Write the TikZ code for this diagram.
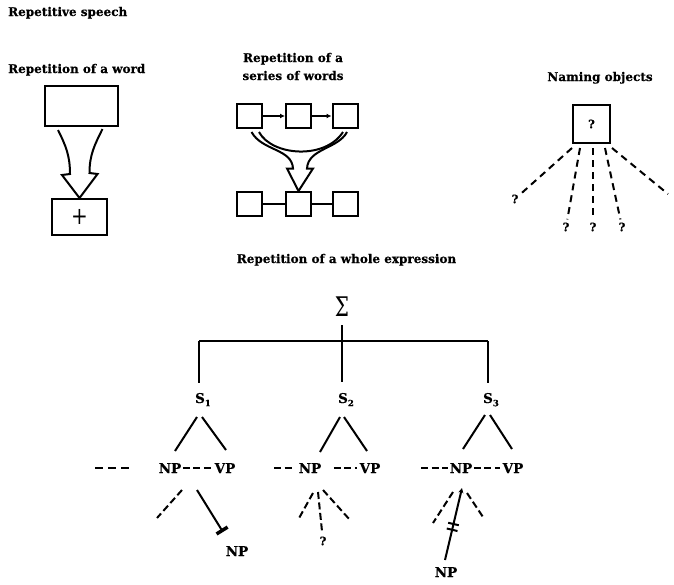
\documentclass[tikz,border=0pt]{standalone}
\usepackage{fontspec}
\setmainfont{DejaVu Serif}[BoldFeatures={FakeBold=0.4}]
\usepackage{graphicx}
\usetikzlibrary{arrows.meta,calc}
\begin{document}
\begin{tikzpicture}[x=1pt,y=-1pt,
  hd/.style={font=\bfseries\fontsize{12}{14}\selectfont, inner sep=0pt, anchor=base west},
  wbox/.style={draw, line width=2pt, inner sep=0pt},
  sq/.style={wbox, minimum width=25pt, minimum height=24pt},
  tag/.style={font=\bfseries\fontsize{13.5}{15}\selectfont, inner sep=0.5pt, anchor=base},
  qm/.style={font=\bfseries\fontsize{11.5}{12}\selectfont, inner sep=3pt},
  ln/.style={line width=2pt},
  hollow/.style={line width=2pt, line join=miter},
  dsh/.style={line width=2pt, dash pattern=on 7pt off 5pt},
  tdsh/.style={line width=2pt, dash pattern=on 7pt off 3.5pt},
  ldsh/.style={line width=2pt, dash pattern=on 8pt off 5pt},
]
\useasboundingbox (0,0) rectangle (674,584);

% headings
\node[hd] (title) at (8,16) {Repetitive speech};
\node[hd] (hword) at (8,73) {Repetition of a word};
\node[hd, anchor=base] (hseries1) at (293,62) {Repetition of a};
\node[hd, anchor=base] (hseries2) at (293,80) {series of words};
\node[hd, anchor=base] (hname) at (600,81) {Naming objects};
\node[hd, anchor=base] (hwhole) at (346.5,263) {Repetition of a whole expression};

% repetition of a word
\node[wbox, minimum width=73pt, minimum height=40pt] (wa) at (81.5,106) {};
\node[wbox, minimum width=55pt, minimum height=36pt] (wb) at (79.5,217)
  {\scalebox{1}[1.2]{\fontsize{20}{20}\selectfont +}};
\draw[hollow] ($(wa.south)+(-23.5,3)$) .. controls +(8,16) and +(0,-18) .. ++(12,44)
  -- ++(-8,1) -- (wb.north) -- ++(18,-24) -- ++(-8,-1)
  .. controls +(0,-18) and +(-8,16) .. ++(13,-44);

% repetition of a series of words
\node[sq] (sa) at (249.5,116) {};
\node[sq] (sb) at (298.5,116) {};
\node[sq] (sc) at (345,116) {};
\node[sq] (ta) at (249.5,204) {};
\node[sq] (tb) at (298.5,204) {};
\node[sq] (tc) at (345,204) {};
\draw[ln, -{Latex[length=5pt,width=5pt]}] (sa) -- (sb);
\draw[ln, -{Latex[length=5pt,width=5pt]}] (sb) -- (sc);
\draw[ln] (ta) -- (tb);
\draw[ln] (tb) -- (tc);
\draw[hollow] ($(sa.south)+(2,3)$) .. controls +(10.5,19) and +(-1,-20) .. ($(tb.north)+(-5.5,-22.5)$)
  -- ++(-6,0) -- (tb.north) -- ++(14.5,-22.5) -- ++(-6,0)
  .. controls +(1,-20) and +(-9,17) .. ($(sc.south)+(2,3)$);
\draw[hollow] ($(sa.south)+(9.5,3)$) .. controls +(13,24) and +(-18,28) .. ($(sc.south)+(-2,3)$);

% naming objects
\node[wbox, minimum width=37pt, minimum height=38pt, font=\bfseries\fontsize{11.5}{12}\selectfont] (nb) at (591.5,124) {?};
\node[qm] (q1) at (515,199) {?};
\node[qm] (q2) at (566,227) {?};
\node[qm] (q3) at (593,227) {?};
\node[qm] (q4) at (622,227) {?};
\coordinate (q5) at (668,194);
\draw[dsh] ($(nb.south)+(-19.5,4)$) -- (q1);
\draw[dsh] ($(nb.south)+(-11.5,4)$) -- (q2);
\draw[dsh] ($(nb.south)+(1.5,4)$) -- (q3);
\draw[dsh] ($(nb.south)+(13.5,4)$) -- (q4);
\draw[dsh] ($(nb.south)+(20.5,4)$) -- (q5);

% repetition of a whole expression
\node[inner sep=0pt, font=\fontsize{20}{20}\selectfont] (sig) at (342,307) {\scalebox{1}[1.35]{Σ}};
\node[tag] (s1) at (200,403) {S\rlap{\raisebox{-0.45ex}{\fontsize{8.5}{8.5}\selectfont 1}}};
\node[tag] (s2) at (343,403) {S\rlap{\raisebox{-0.45ex}{\fontsize{8.5}{8.5}\selectfont 2}}};
\node[tag] (s3) at (488,403) {S\rlap{\raisebox{-0.45ex}{\fontsize{8.5}{8.5}\selectfont 3}}};
\coordinate (hl) at (199,341);
\coordinate (hr) at (488,341);
\draw[ln, shorten <=8pt, shorten >=10pt] (sig) -- (sig |- s2.north);
\draw[ln] (hl) -- (hr);
\draw[ln, shorten >=9pt] (hl) -- (hl |- s1.north);
\draw[ln, shorten >=9pt] (hr) -- (hr |- s3.north);

\node[tag] (np1) at (170,473) {NP};
\node[tag] (vp1) at (225,473) {VP};
\node[tag] (np2) at (310,473) {NP};
\node[tag] (vp2) at (370,473) {VP};
\node[tag] (np3) at (461,473) {NP};
\node[tag] (vp3) at (513,473) {VP};
\node[tag] (npl1) at (237,556) {NP};
\node[tag] (npl3) at (446,577) {NP};
\node[qm] (q6) at (323,541) {?};

% branches from S to NP and VP
\draw[ln] ($(s1.base)+(-3,14)$) -- ($(np1.base)+(5,-22)$);
\draw[ln] ($(s1.base)+(2,14)$) -- ($(vp1.base)+(1,-23)$);
\draw[ln] ($(s2.base)+(-3,14)$) -- ($(np2.base)+(10,-21)$);
\draw[ln] ($(s2.base)+(1,14)$) -- ($(vp2.base)+(-3,-22)$);
\draw[ln] ($(s3.base)+(-3,12)$) -- ($(np3.base)+(2,-24)$);
\draw[ln] ($(s3.base)+(2,12)$) -- ($(vp3.base)+(-1,-24)$);

% dashed links along the NP/VP row
\coordinate (d1) at (95,468);
\coordinate (d2) at (274,468);
\draw[ldsh] (d1) -- ($(np1.base west)+(-26,-5)$);
\draw[tdsh] ($(np1.base east)+(1,-5)$) -- ($(vp1.base west)+(-2,-5)$);
\draw[tdsh] (d2) -- ($(np2.base west)+(-6,-5)$);
\draw[tdsh] ($(np2.base east)+(12,-5)$) -- ($(vp2.base west)+(-2,-5)$);
\draw[tdsh] ($(np3.base west)+(-28,-5)$) -- ($(np3.base west)+(-1,-5)$);
\draw[tdsh] ($(np3.base east)+(1,-5)$) -- ($(vp3.base west)+(-2,-5)$);

% below NP of S1
\draw[tdsh] ($(np1.base)+(12,17)$) -- ($(np1.base)+(-13,45)$);
\draw[ln, -{Bar[width=13pt,line width=3.5pt]}] ($(np1.base)+(27,17)$) -- ($(npl1.base)+(-14,-24)$);

% below NP of S2
\draw[tdsh] ($(np2.base)+(3,20)$) -- ($(np2.base)+(-12,47)$);
\draw[tdsh] ($(np2.base)+(8,19)$) -- (q6);
\draw[tdsh] ($(np2.base)+(13,17)$) -- ($(np2.base)+(40,47)$);

% below NP of S3
\draw[tdsh] ($(np3.base)+(-8,19)$) -- ($(np3.base)+(-28,50)$);
\draw[tdsh] ($(np3.base)+(6,20)$) -- ($(np3.base)+(22,44)$);
\draw[ln, -{Stealth[length=5pt,width=5pt]}] ($(npl3.base)+(-1,-17)$) -- ($(np3.base)+(1,15)$)
  node[pos=0.42, sloped, fill, inner sep=0pt, minimum width=2pt, minimum height=11pt] (brk1) {}
  node[pos=0.5, sloped, fill, inner sep=0pt, minimum width=2pt, minimum height=11pt] (brk2) {};
\end{tikzpicture}
\end{document}
